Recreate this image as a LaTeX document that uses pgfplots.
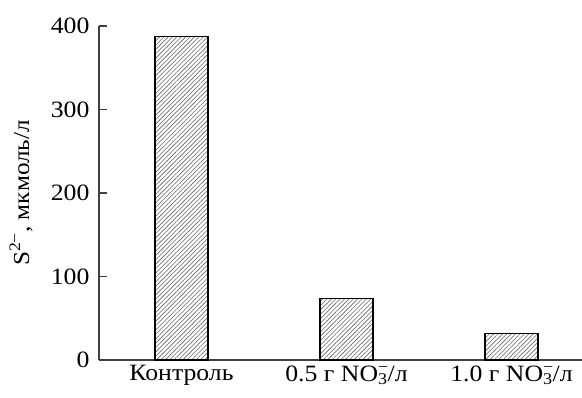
\documentclass[border=0pt]{standalone}
\usepackage{fontspec}
\setmainfont{Liberation Serif}[FakeStretch=1.1]
\usepackage{pgfplots}
\pgfplotsset{compat=1.18}
\usetikzlibrary{patterns.meta}
\newcommand{\nothree}{NO\rlap{\textsuperscript{−}}\textsubscript{3}}
\begin{document}
\begin{tikzpicture}
\path[use as bounding box] (-99bp,-38bp) rectangle (483bp,360bp);
\begin{axis}[
  scale only axis,
  width=483bp, height=334bp,
  xmin=-0.5, xmax=2.427,
  ymin=0, ymax=400,
  axis x line=bottom, axis y line=left,
  axis line style={-, line width=1.1bp, draw=black!75},
  xtick={0,1,2},
  xticklabels={Контроль, 0.5 г \nothree/л, 1.0 г \nothree/л},
  x tick style={draw=none},
  ytick={0,100,200,300,400},
  y tick style={line width=1.1bp, draw=black!75},
  tick align=inside,
  major tick length=8bp,
  tick label style={font=\fontsize{23.5}{27}\selectfont},
  /pgf/number format/assume math mode=true,
  ylabel={S\textsuperscript{2−}, мкмоль/л},
  every axis y label/.style={at={(axis description cs:0,0.5)}, xshift=-78bp, rotate=90, anchor=center, font=\fontsize{23}{27}\selectfont},
  yticklabel style={xshift=-6bp},
  xticklabel style={yshift=-2bp},
]
\addplot[ybar, bar width=53bp, draw=black, line width=1.1bp,
  pattern={Lines[angle=45, distance=3.1bp, line width=0.6bp]}, pattern color=black!60]
  coordinates {(0,387) (1,74) (2,32)};
\end{axis}
\end{tikzpicture}
\end{document}
